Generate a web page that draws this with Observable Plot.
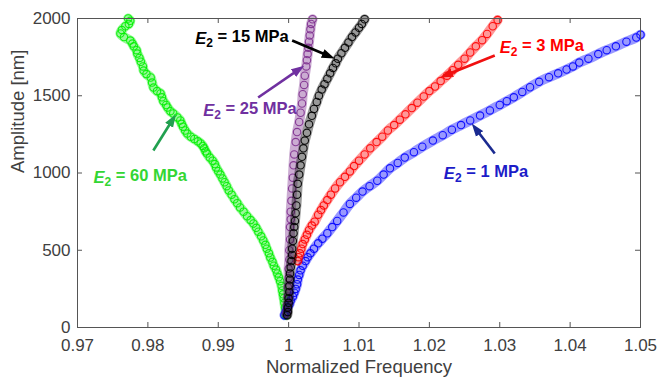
<!DOCTYPE html>
<html>
<head>
<meta charset="utf-8">
<script src="https://cdn.jsdelivr.net/npm/d3@7"></script>
<script src="https://cdn.jsdelivr.net/npm/@observablehq/plot@0.6"></script>
<style>
  body { margin: 0; background: #fff; }
  #chart svg { display: block; }
</style>
</head>
<body>
<div id="chart"></div>
<script>
// Tick values
const xTicks = [0.97, 0.98, 0.99, 1, 1.01, 1.02, 1.03, 1.04, 1.05];
const yTicks = [0, 500, 1000, 1500, 2000];

// Frequency response samples [normalized frequency, amplitude (nm)] per layer modulus
const e60 = [
  [0.9772, 2000], [0.9775, 1985], [0.9773, 1965], [0.9768, 1950], [0.9763, 1925], [0.9761, 1903],
  [0.9766, 1880], [0.9775, 1857], [0.9778, 1838], [0.9780, 1820], [0.9784, 1795], [0.9785, 1773],
  [0.9788, 1745], [0.9790, 1720], [0.9793, 1690], [0.9794, 1663], [0.9798, 1640], [0.9804, 1618],
  [0.9806, 1585], [0.9808, 1553], [0.9813, 1530], [0.9818, 1515], [0.9820, 1490], [0.9822, 1465],
  [0.9826, 1440], [0.9828, 1424], [0.9832, 1400], [0.9836, 1385], [0.9842, 1360], [0.9846, 1340],
  [0.9848, 1318], [0.9850, 1300], [0.9853, 1275], [0.9856, 1255], [0.9861, 1235], [0.9866, 1220],
  [0.9871, 1205], [0.9875, 1191], [0.9878, 1175], [0.9880, 1160], [0.9882, 1140], [0.9884, 1126],
  [0.9888, 1100], [0.9892, 1080], [0.9895, 1058], [0.9897, 1036], [0.9900, 1012], [0.9903, 990],
  [0.9906, 965], [0.9909, 940], [0.9912, 915], [0.9915, 887], [0.9919, 860], [0.9923, 830],
  [0.9927, 805], [0.9931, 777], [0.9936, 750], [0.9941, 720], [0.9946, 695], [0.9950, 673],
  [0.9954, 645], [0.9957, 620], [0.9961, 590], [0.9964, 563], [0.9967, 535], [0.9969, 510],
  [0.9972, 480], [0.9974, 453], [0.9977, 425], [0.9979, 400], [0.9982, 375], [0.9984, 350],
  [0.9986, 325], [0.9988, 300], [0.9990, 270], [0.9991, 240], [0.9992, 215], [0.9993, 190],
  [0.9994, 160], [0.9995, 129], [0.9996, 100], [0.9996, 80]
];
const e1 = [
  [0.9994, 80], [0.9996, 100], [0.9998, 125], [1.0001, 150], [1.0003, 175], [1.0006, 200],
  [1.0008, 225], [1.0010, 250], [1.0012, 280], [1.0013, 310], [1.0015, 340], [1.0017, 370],
  [1.0020, 400], [1.0024, 430], [1.0027, 455], [1.0031, 480], [1.0036, 510], [1.0042, 545],
  [1.0048, 575], [1.0055, 610], [1.0062, 650], [1.0069, 690], [1.0078, 745], [1.0087, 800],
  [1.0096, 840], [1.0105, 880], [1.0115, 915], [1.0126, 950], [1.0135, 990], [1.0144, 1030],
  [1.0155, 1065], [1.0165, 1100], [1.0178, 1135], [1.0190, 1170], [1.0205, 1210], [1.0219, 1245],
  [1.0232, 1280], [1.0245, 1310], [1.0258, 1340], [1.0272, 1372], [1.0286, 1405], [1.0300, 1440],
  [1.0310, 1465], [1.0320, 1490], [1.0332, 1525], [1.0343, 1555], [1.0356, 1590], [1.0370, 1620],
  [1.0383, 1645], [1.0395, 1670], [1.0404, 1690], [1.0413, 1715], [1.0426, 1740], [1.0440, 1770],
  [1.0452, 1795], [1.0465, 1820], [1.0480, 1850], [1.0494, 1877], [1.0500, 1895]
];
const e3 = [
  [1.0013, 430], [1.0014, 455], [1.0016, 480], [1.0018, 510], [1.0020, 540], [1.0023, 570],
  [1.0026, 600], [1.0029, 630], [1.0033, 660], [1.0037, 685], [1.0042, 730], [1.0046, 760],
  [1.0050, 790], [1.0055, 825], [1.0060, 860], [1.0066, 900], [1.0073, 940], [1.0080, 975],
  [1.0087, 1010], [1.0093, 1045], [1.0100, 1080], [1.0108, 1120], [1.0116, 1160], [1.0125, 1200],
  [1.0133, 1235], [1.0141, 1275], [1.0150, 1310], [1.0158, 1345], [1.0166, 1380], [1.0175, 1420],
  [1.0183, 1455], [1.0192, 1495], [1.0200, 1530], [1.0208, 1560], [1.0216, 1595], [1.0225, 1630],
  [1.0233, 1665], [1.0241, 1700], [1.0250, 1740], [1.0258, 1780], [1.0266, 1820], [1.0275, 1860],
  [1.0282, 1900], [1.0290, 1950], [1.0297, 1990]
];
const e25 = [
  [0.9997, 90], [0.9998, 150], [0.9999, 200], [0.9999, 260], [1.0000, 320], [1.0000, 380],
  [1.0001, 440], [1.0001, 500], [1.0002, 570], [1.0002, 650], [1.0003, 700], [1.0003, 750],
  [1.0004, 820], [1.0005, 900], [1.0006, 970], [1.0007, 1050], [1.0008, 1120], [1.0010, 1200],
  [1.0012, 1265], [1.0015, 1330], [1.0017, 1390], [1.0019, 1450], [1.0020, 1510], [1.0022, 1570],
  [1.0023, 1630], [1.0025, 1690], [1.0026, 1730], [1.0027, 1770], [1.0028, 1810], [1.0029, 1850],
  [1.0030, 1890], [1.0031, 1930], [1.0032, 1965], [1.0034, 1995]
];
const e15 = [
  [0.9998, 80], [0.9999, 100], [0.9999, 130], [1.0000, 160], [1.0000, 190], [1.0001, 230],
  [1.0001, 270], [1.0002, 310], [1.0002, 350], [1.0003, 390], [1.0004, 430], [1.0005, 470],
  [1.0005, 510], [1.0006, 560], [1.0007, 610], [1.0008, 650], [1.0009, 690], [1.0010, 740],
  [1.0011, 790], [1.0012, 860], [1.0013, 930], [1.0015, 990], [1.0017, 1050], [1.0019, 1105],
  [1.0021, 1160], [1.0023, 1210], [1.0026, 1260], [1.0029, 1315], [1.0033, 1370], [1.0036, 1415],
  [1.0040, 1460], [1.0043, 1500], [1.0047, 1540], [1.0051, 1575], [1.0055, 1610], [1.0059, 1645],
  [1.0063, 1680], [1.0067, 1710], [1.0070, 1740], [1.0075, 1775], [1.0080, 1810], [1.0085, 1845],
  [1.0090, 1880], [1.0095, 1910], [1.0100, 1940], [1.0104, 1965], [1.0108, 1995]
];

// Annotation labels (E2 values) and their callout arrows, in data units
const labelValues = ["15", "25", "60", "3", "1"];
const labelAnchors = [[0.98674, 1871], [0.98787, 1405], [0.97227, 971], [1.03000, 1812], [1.02206, 997]];
const labelColors = ["#000000", "#7030a0", "#33d633", "#ff0000", "#1c1cc8"];
const arrowFrom = [[1.00050, 1858], [0.99567, 1489], [0.98078, 1146], [1.02929, 1761], [1.02929, 1126]];
const arrowTo = [[1.00589, 1754], [1.00163, 1676], [0.98362, 1353], [1.02220, 1631], [1.02645, 1294]];
const arrowColors = ["#000000", "#7030a0", "#21a04f", "#f01010", "#1a2a90"];

// Drawing order: later series sit on top
const series = [
  {points: e60, color: "#00f000"},
  {points: e1, color: "#0000ff"},
  {points: e3, color: "#ff0000"},
  {points: e25, color: "#7e2f8e"},
  {points: e15, color: "#000000"}
];

const W = 657, H = 381;
const mL = 77, mR = 17, mT = 18, mB = 54;
const innerW = W - mL - mR, innerH = H - mT - mB;
const tickLen = 5;
const axisGray = "#555";

const labels = labelValues.map((v, i) => ({value: v, x: labelAnchors[i][0], y: labelAnchors[i][1], color: labelColors[i]}));
const arrows = arrowFrom.map((p, i) => ({x1: p[0], y1: p[1], x2: arrowTo[i][0], y2: arrowTo[i][1], color: arrowColors[i]}));

// Filled triangular arrowhead
function filledHead(color) {
  return d3.create("svg:marker")
    .attr("viewBox", "-7 -5 13 10")
    .attr("markerWidth", 13)
    .attr("markerHeight", 10)
    .attr("markerUnits", "userSpaceOnUse")
    .attr("orient", "auto")
    .attr("refX", 1)
    .attr("refY", 0)
    .attr("fill", color)
    .attr("stroke", "none")
    .call(m => m.append("path").attr("d", "M-7,-4.6L6,0L-7,4.6Z"))
    .node();
}

// Each series: a soft band under a chain of open circles
const seriesMarks = series.flatMap(s => [
  Plot.line(s.points, {x: d => d[0], y: d => d[1], stroke: s.color, strokeWidth: 10, strokeOpacity: 0.4, curve: "catmull-rom", strokeLinecap: "round"}),
  Plot.dot(s.points, {x: d => d[0], y: d => d[1], r: 3.7, stroke: s.color, strokeWidth: 1.1, fill: "none", strokeOpacity: 0.9})
]);

const chart = Plot.plot({
  width: W,
  height: H,
  marginLeft: mL,
  marginRight: mR,
  marginTop: mT,
  marginBottom: mB,
  style: {fontFamily: "'Liberation Sans', Arial, sans-serif", fontSize: "17px", color: "#404040", background: "#fff"},
  x: {domain: [0.97, 1.05]},
  y: {domain: [0, 2000]},
  marks: [
    ...seriesMarks,
    // inward tick marks on all four sides
    Plot.ruleX(xTicks.slice(1, -1), {insetTop: innerH - tickLen, stroke: axisGray}),
    Plot.ruleX(xTicks.slice(1, -1), {insetBottom: innerH - tickLen, stroke: axisGray}),
    Plot.ruleY(yTicks.slice(1, -1), {insetRight: innerW - tickLen, stroke: axisGray}),
    Plot.ruleY(yTicks.slice(1, -1), {insetLeft: innerW - tickLen, stroke: axisGray}),
    Plot.frame({stroke: axisGray, strokeWidth: 1}),
    Plot.axisX(xTicks, {tickSize: 0, tickPadding: 11, tickFormat: d => String(d), label: null, fontSize: 17}),
    Plot.axisY(yTicks, {tickSize: 0, tickPadding: 7, tickFormat: d => String(d), label: null, fontSize: 17}),
    Plot.text(["Normalized Frequency"], {frameAnchor: "bottom", text: d => d, dy: 45, fontSize: 18.5, fill: "#404040"}),
    Plot.text(["Amplitude [nm]"], {frameAnchor: "left", text: d => d, dx: -59, rotate: -90, fontSize: 18.5, fill: "#404040"}),
    Plot.link(arrows, {x1: "x1", y1: "y1", x2: "x2", y2: "y2", stroke: "color", strokeWidth: 2.6, markerEnd: filledHead}),
    Plot.text(labels, {x: "x", y: "y", text: d => `E2 = ${d.value} MPa`, fill: "color", textAnchor: "start", fontWeight: "bold", fontSize: 16.5, ariaDescription: "modulus labels"})
  ]
});

// Italic E with subscript 2 in each modulus label
const labelGroup = chart.querySelector('g[aria-description="modulus labels"]') ||
  [...chart.querySelectorAll('g[aria-label="text"]')].pop();
d3.select(labelGroup).selectAll("text").each(function (_, i) {
  const t = d3.select(this);
  t.text(null);
  t.append("tspan").attr("font-style", "italic").text("E");
  t.append("tspan").attr("font-size", "12px").attr("dy", "0.3em").text("2");
  t.append("tspan").attr("dy", "-0.3em").text(` = ${labels[i].value} MPa`);
});

document.getElementById("chart").append(chart);
</script>
</body>
</html>
